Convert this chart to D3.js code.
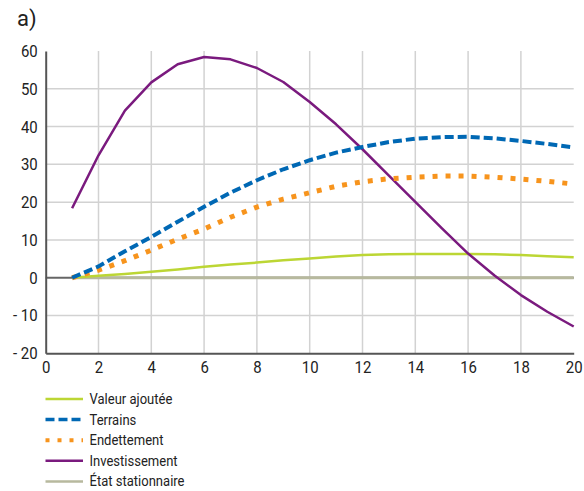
<!DOCTYPE html>
<html><head><meta charset="utf-8">
<script src="https://cdn.jsdelivr.net/npm/d3@7"></script>
<style>body{margin:0;background:#fff}svg{display:block}text{font-family:Roboto,"Liberation Sans",sans-serif;fill:#222}</style>
</head><body><svg id="c" width="584" height="491"></svg>
<script>
const years = d3.range(1, 21);
const valeurAjoutee = [0, 0.5, 1.0, 1.6, 2.2, 2.9, 3.5, 4.0, 4.6, 5.1, 5.6, 6.0, 6.2, 6.3, 6.3, 6.3, 6.2, 6.0, 5.7, 5.4];
const terrains = [0, 3.0, 7.0, 10.8, 14.8, 18.8, 22.5, 25.8, 28.7, 31.1, 33.1, 34.6, 35.9, 36.8, 37.2, 37.3, 36.9, 36.2, 35.4, 34.5];
const endettement = [0, 2.0, 4.5, 7.3, 10.2, 12.9, 16.0, 18.7, 20.8, 22.5, 24.2, 25.4, 26.2, 26.6, 26.9, 26.9, 26.6, 26.1, 25.5, 24.8];
const investissement = [18.4, 32.4, 44.2, 51.7, 56.5, 58.4, 57.8, 55.5, 51.8, 46.5, 40.6, 34.0, 27.0, 20.1, 13.1, 6.4, 0.6, -4.6, -9.0, -12.9];
const etatStationnaire = [0, 0, 0, 0, 0, 0, 0, 0, 0, 0, 0, 0, 0, 0, 0, 0, 0, 0, 0, 0];
const xTicks = [0, 2, 4, 6, 8, 10, 12, 14, 16, 18, 20];
const yTicks = [-20, -10, 0, 10, 20, 30, 40, 50, 60];
const yTickLabels = ["- 20", "- 10", "0", "10", "20", "30", "40", "50", "60"];
const seriesNames = ["Valeur ajoutée", "Terrains", "Endettement", "Investissement", "État stationnaire"];

const svg = d3.select("#c");
const x = d3.scaleLinear().domain([0, 20]).range([45.7, 573.7]);
const y = d3.scaleLinear().domain([-20, 60]).range([353.3, 51]);

svg.append("text").attr("x", 17).attr("y", 26).attr("font-size", 22).attr("class", "nc").text("a)");

// grid
const g = svg.append("g");
g.selectAll(".vg").data(xTicks.filter(d => d > 0 && d < 20)).enter().append("line")
  .attr("x1", d => x(d)).attr("x2", d => x(d)).attr("y1", y(60)).attr("y2", y(-20))
  .attr("stroke", "#d2d2d2").attr("stroke-width", 1.5);
g.selectAll(".hg").data(yTicks.filter(d => d > -20 && d < 60)).enter().append("line")
  .attr("x1", x(0)).attr("x2", x(20)).attr("y1", d => y(d)).attr("y2", d => y(d))
  .attr("stroke", d => d === 0 ? "#666" : "#d2d2d2").attr("stroke-width", d => d === 0 ? 2 : 1.5);

// axes
const xAxis = d3.axisBottom(x).tickValues(xTicks).tickSize(0).tickPadding(8);
const xa = svg.append("g").attr("transform", `translate(0,${y(-20)})`).call(xAxis);
xa.select(".domain").attr("stroke", "#555").attr("stroke-width", 2);
xa.selectAll("text").attr("font-size", 17).attr("font-family", null).attr("fill", "#222");
const yAxis = d3.axisLeft(y).tickValues(yTicks).tickSize(0).tickPadding(8).tickFormat((d, i) => yTickLabels[i]);
const ya = svg.append("g").attr("transform", `translate(${x(0)},0)`).call(yAxis);
ya.select(".domain").attr("stroke", "#555").attr("stroke-width", 2);
ya.selectAll("text").attr("font-size", 17).attr("font-family", null).attr("fill", "#222");

const styles = [
  {data: valeurAjoutee, color: "#bcd634", w: 2.5, dash: null},
  {data: terrains, color: "#0068b4", w: 4, dash: "9,4"},
  {data: endettement, color: "#f7941d", w: 5, dash: "5,8"},
  {data: investissement, color: "#7a1a7e", w: 2.5, dash: null},
  {data: etatStationnaire, color: "#b7b99e", w: 3, dash: null}
];
const line = d3.line().x((d, i) => x(years[i])).y(d => y(d));
const drawOrder = [4, 0, 3, 2, 1];
drawOrder.forEach(k => {
  const s = styles[k];
  svg.append("path").datum(s.data).attr("d", line).attr("fill", "none")
    .attr("stroke", s.color).attr("stroke-width", s.w)
    .attr("stroke-dasharray", s.dash).attr("stroke-linejoin", "round");
});

// legend
const leg = svg.append("g");
seriesNames.forEach((n, i) => {
  const s = styles[i];
  const yy = 399 + i * 20.6;
  leg.append("line").attr("x1", 45.5).attr("x2", 83).attr("y1", yy).attr("y2", yy)
    .attr("stroke", s.color).attr("stroke-width", s.w === 5 ? 4 : (s.w === 4 ? 3.5 : 2.5))
    .attr("stroke-dasharray", s.dash === "5,8" ? "4,8" : s.dash);
  leg.append("text").attr("x", 89.5).attr("y", yy + 5).attr("font-size", 15.5).attr("class", "lg").text(n);
});

// condensed look
svg.selectAll("text:not(.nc)").each(function() {
  const w = this.getComputedTextLength();
  const f = this.classList.contains("lg") ? 0.84 : 0.88;
  d3.select(this).attr("textLength", (w * f).toFixed(1)).attr("lengthAdjust", "spacingAndGlyphs");
});
</script></body></html>
